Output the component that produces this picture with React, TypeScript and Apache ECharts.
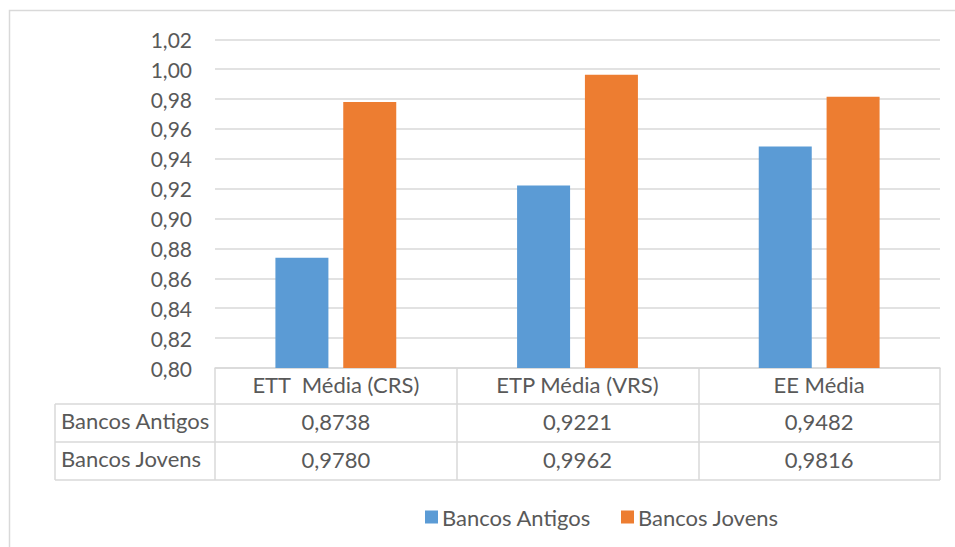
import React, { useEffect, useRef } from "react";
import * as echarts from "echarts";

const categories = ["ETT  Média (CRS)", "ETP Média (VRS)", "EE Média"];
const seriesNames = ["Bancos Antigos", "Bancos Jovens"];
const bancosAntigos = [0.8738, 0.9221, 0.9482];
const bancosJovens = [0.978, 0.9962, 0.9816];

const FONT = "Lato, 'Noto Sans', sans-serif";
const TEXT = "#595959";
const LINE = "#d9d9d9";
const SIZE = 22;

const fmt = (v: number, d: number) => v.toFixed(d).replace(".", ",");

export default function App() {
  const ref = useRef<HTMLDivElement>(null);

  useEffect(() => {
    if (!ref.current) return;
    const chart = echarts.init(ref.current, undefined, { renderer: "svg" });

    const tableAxis = (values: number[], offset: number) => ({
      type: "category" as const,
      data: categories,
      position: "bottom" as const,
      offset,
      axisLine: { show: false },
      axisTick: { show: false },
      axisLabel: {
        interval: 0,
        margin: 5,
        color: TEXT,
        fontFamily: FONT,
        fontSize: SIZE,
        formatter: (_: string, i: number) => fmt(values[i], 4),
      },
    });

    chart.setOption({
      animation: false,
      textStyle: { fontFamily: FONT },
      grid: { left: 215, right: 15, top: 39.3, bottom: 179, containLabel: false },
      legend: {
        data: seriesNames,
        left: 420,
        top: 501,
        itemWidth: 13,
        itemHeight: 13,
        itemGap: 30,
        icon: "rect",
        textStyle: { color: TEXT, fontFamily: FONT, fontSize: SIZE, padding: [0, 0, 0, -1] },
      },
      xAxis: [
        {
          type: "category",
          data: categories,
          position: "bottom",
          axisLine: { show: true, lineStyle: { color: LINE, width: 1.5 } },
          axisTick: {
            show: true,
            length: 112,
            lineStyle: { color: LINE, width: 1.5 },
          },
          axisLabel: {
            interval: 0,
            margin: 5,
            color: TEXT,
            fontFamily: FONT,
            fontSize: SIZE,
          },
        },
        tableAxis(bancosAntigos, 37),
        tableAxis(bancosJovens, 75),
      ],
      yAxis: {
        type: "value",
        min: 0.8,
        max: 1.02,
        interval: 0.02,
        axisLine: { show: false },
        axisTick: { show: false },
        splitLine: { lineStyle: { color: LINE, width: 1.5 } },
        axisLabel: {
          margin: 23,
          color: TEXT,
          fontFamily: FONT,
          fontSize: 21,
          formatter: (v: number) => fmt(v, 2),
        },
      },
      series: [
        {
          name: seriesNames[0],
          type: "bar",
          data: bancosAntigos,
          barWidth: 53,
          barGap: "28%",
          itemStyle: { color: "#5b9bd5" },
        },
        {
          name: seriesNames[1],
          type: "bar",
          data: bancosJovens,
          barWidth: 53,
          itemStyle: { color: "#ed7d31" },
        },
      ],
      graphic: [
        {
          type: "rect",
          shape: { x: 9.5, y: 10.5, width: 1000, height: 600 },
          style: { fill: "none", stroke: LINE, lineWidth: 1.5 },
          silent: true,
        },
        {
          type: "line",
          shape: { x1: 55, y1: 404, x2: 940, y2: 404 },
          style: { stroke: LINE, lineWidth: 1.5 },
        },
        {
          type: "line",
          shape: { x1: 55, y1: 442, x2: 940, y2: 442 },
          style: { stroke: LINE, lineWidth: 1.5 },
        },
        {
          type: "line",
          shape: { x1: 55, y1: 480, x2: 940, y2: 480 },
          style: { stroke: LINE, lineWidth: 1.5 },
        },
        {
          type: "line",
          shape: { x1: 55, y1: 404, x2: 55, y2: 480 },
          style: { stroke: LINE, lineWidth: 1.5 },
        },
        {
          type: "text",
          left: 61,
          top: 409,
          style: { text: seriesNames[0], fill: TEXT, font: `${SIZE}px ${FONT}` },
        },
        {
          type: "text",
          left: 61,
          top: 447,
          style: { text: seriesNames[1], fill: TEXT, font: `${SIZE}px ${FONT}` },
        },
      ],
    });

    return () => chart.dispose();
  }, []);

  return (
    <div
      ref={ref}
      style={{ position: "fixed", left: 0, top: 0, width: 955, height: 547, background: "#fff" }}
    />
  );
}
